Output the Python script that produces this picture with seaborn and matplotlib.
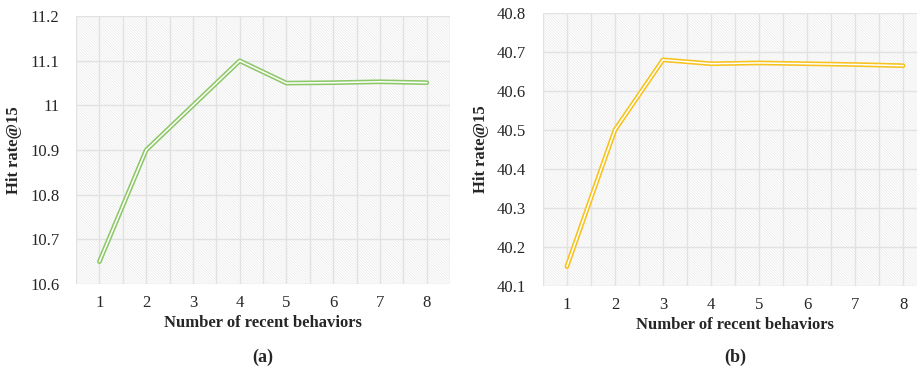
import matplotlib
matplotlib.use("Agg")
from matplotlib import pyplot as plt
from matplotlib.patches import Rectangle
import numpy as np
import pandas as pd
import seaborn as sns

# Values
behaviors = [1, 2, 3, 4, 5, 6, 7, 8]
hit_rate_a = [10.65, 10.90, 11.00, 11.10, 11.05, 11.051, 11.053, 11.051]
hit_rate_b = [40.15, 40.50, 40.68, 40.67, 40.672, 40.670, 40.668, 40.665]
yticks_a = [10.6, 10.7, 10.8, 10.9, 11.0, 11.1, 11.2]
yticks_b = [40.1, 40.2, 40.3, 40.4, 40.5, 40.6, 40.7, 40.8]
ytick_labels_a = ['10.6', '10.7', '10.8', '10.9', '11', '11.1', '11.2']
ytick_labels_b = ['40.1', '40.2', '40.3', '40.4', '40.5', '40.6', '40.7', '40.8']


def panel(ax, y, color, yticks, ylabels):
    df = pd.DataFrame({'behaviors': behaviors, 'hit': y})
    # fine hatched background like the original chart style
    ax.add_patch(Rectangle((0, 0), 1, 1, transform=ax.transAxes, facecolor='white',
                           edgecolor='#e9e9e9', hatch='\\' * 12, linewidth=0, zorder=0))
    for gx in np.arange(0.5, 8.51, 0.5):
        ax.axvline(gx, color='#e2e2e2', linewidth=1.0, zorder=1)
    for gy in yticks:
        ax.axhline(gy, color='#e2e2e2', linewidth=1.0, zorder=1)
    # double (compound) line: coloured outline with white core
    sns.lineplot(data=df, x='behaviors', y='hit', ax=ax, color=color, linewidth=3.4, zorder=3)
    sns.lineplot(data=df, x='behaviors', y='hit', ax=ax, color='white', linewidth=1.1, zorder=4)
    ax.set_xlim(0.5, 8.5)
    ax.set_ylim(yticks[0], yticks[-1])
    ax.set_xticks(behaviors)
    ax.set_xticklabels([str(b) for b in behaviors], fontsize=12)
    ax.set_yticks(yticks)
    ax.set_yticklabels(ylabels, fontsize=12)
    ax.tick_params(length=0, pad=12)
    ax.tick_params(axis='x', pad=8)
    for s in ax.spines.values():
        s.set_visible(False)
    ax.set_xlabel('Number of recent behaviors', fontsize=12, fontweight='bold', labelpad=3)
    ax.set_ylabel('Hit rate@15', fontsize=12, fontweight='bold', labelpad=6)


def main():
    sns.set_style("white")
    plt.rcParams['font.family'] = ['Liberation Serif', 'DejaVu Serif']
    plt.rcParams['hatch.linewidth'] = 0.5

    fig = plt.figure(figsize=(9.17, 3.72), dpi=100)
    ax_a = fig.add_axes([0.0829, 0.2366, 0.408, 0.720])
    ax_b = fig.add_axes([0.592, 0.231, 0.419, 0.734])

    panel(ax_a, hit_rate_a, '#8dc868', yticks_a, ytick_labels_a)
    panel(ax_b, hit_rate_b, '#f7c21c', yticks_b, ytick_labels_b)

    fig.text(263 / 917, 1 - 357 / 372, '(a)', ha='center', va='center', fontsize=13, fontweight='bold')
    fig.text(735 / 917, 1 - 357 / 372, '(b)', ha='center', va='center', fontsize=13, fontweight='bold')

    fig.savefig('out.png', dpi=100)


if __name__ == '__main__':
    main()
